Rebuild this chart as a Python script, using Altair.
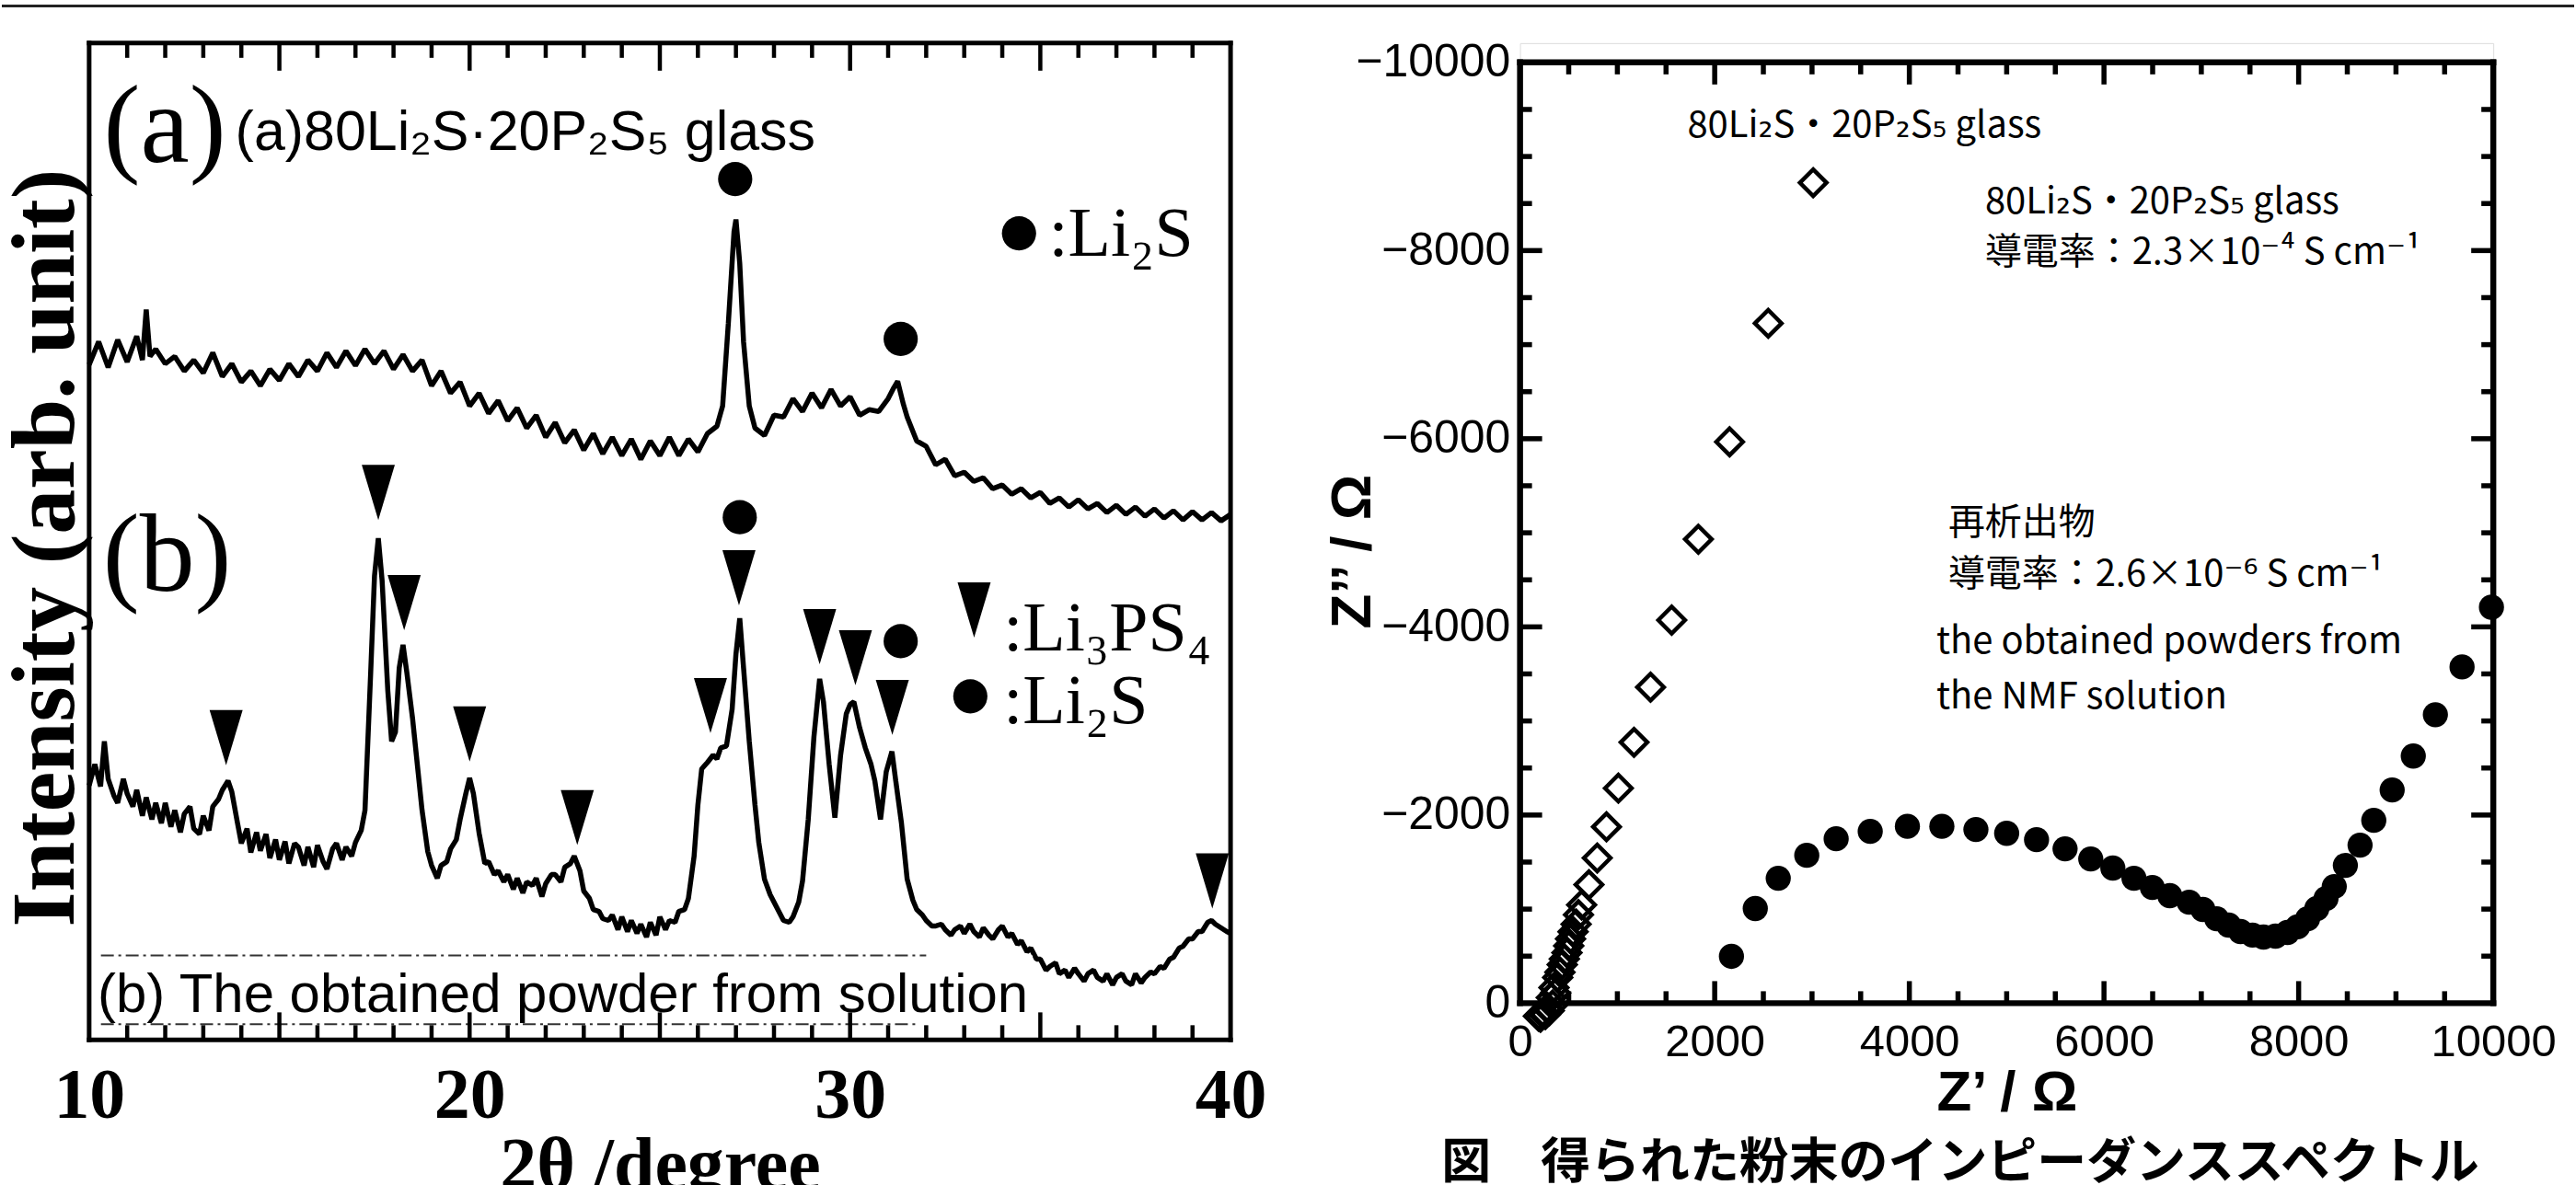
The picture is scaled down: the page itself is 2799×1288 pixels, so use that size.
import altair as alt
import pandas as pd

# ---------------- XRD patterns (left panel) ----------------
deg_a = [10.0, 10.25, 10.5, 10.75, 11.0, 11.25, 11.4, 11.5, 11.6, 11.75, 12.0, 12.25, 12.5, 12.75, 13.0,
         13.25, 13.5, 13.75, 14.0, 14.25, 14.5, 14.75, 15.0, 15.25, 15.5, 15.75, 16.0, 16.25, 16.5, 16.75,
         17.0, 17.25, 17.5, 17.75, 18.0, 18.25, 18.5, 18.75, 19.0, 19.25, 19.5, 19.75, 20.0, 20.25, 20.5,
         20.75, 21.0, 21.25, 21.5, 21.75, 22.0, 22.25, 22.5, 22.75, 23.0, 23.25, 23.5, 23.75, 24.0, 24.25,
         24.5, 24.75, 25.0, 25.25, 25.5, 25.75, 26.0, 26.25, 26.5, 26.65, 26.8, 26.95, 27.0, 27.1, 27.2,
         27.35, 27.5, 27.75, 28.0, 28.25, 28.5, 28.75, 29.0, 29.25, 29.5, 29.75, 30.0, 30.25, 30.5, 30.75,
         31.0, 31.15, 31.25, 31.4, 31.5, 31.75, 32.0, 32.25, 32.5, 32.75, 33.0, 33.25, 33.5, 33.75, 34.0,
         34.25, 34.5, 34.75, 35.0, 35.25, 35.5, 35.75, 36.0, 36.25, 36.5, 36.75, 37.0, 37.25, 37.5, 37.75,
         38.0, 38.25, 38.5, 38.75, 39.0, 39.25, 39.5, 39.75, 40.0]
int_a = [735, 760, 732, 762, 738, 766, 740, 795, 744, 752, 736, 744, 728, 740, 726,
         748, 722, 736, 716, 728, 712, 730, 718, 736, 722, 740, 728, 748, 732, 750,
         734, 752, 736, 750, 730, 746, 728, 740, 712, 728, 704, 716, 690, 704, 682,
         696, 674, 688, 666, 680, 656, 672, 650, 664, 642, 660, 638, 656, 636, 654,
         632, 652, 636, 656, 636, 654, 640, 660, 668, 690, 780, 880, 893, 845, 760,
         690, 666, 658, 680, 678, 698, 684, 704, 688, 708, 690, 700, 680, 686, 684,
         698, 710, 717, 692, 678, 652, 646, 626, 632, 614, 618, 608, 612, 600, 604,
         594, 600, 590, 596, 584, 590, 580, 588, 578, 584, 574, 582, 572, 580, 570,
         578, 568, 576, 566, 575, 566, 574, 565, 572]

deg_b = [10.0, 10.15, 10.3, 10.4, 10.5, 10.65, 10.75, 10.9, 11.0, 11.15, 11.25, 11.4, 11.5, 11.65, 11.75,
         11.9, 12.0, 12.15, 12.25, 12.4, 12.5, 12.65, 12.75, 12.9, 13.0, 13.15, 13.25, 13.4, 13.5, 13.65,
         13.75, 13.9, 14.0, 14.15, 14.25, 14.4, 14.5, 14.65, 14.75, 14.9, 15.0, 15.15, 15.25, 15.4, 15.5,
         15.65, 15.75, 15.9, 16.0, 16.15, 16.25, 16.4, 16.5, 16.65, 16.75, 16.9, 17.0, 17.15, 17.25, 17.4,
         17.5, 17.6, 17.7, 17.85, 17.95, 18.05, 18.15, 18.25, 18.35, 18.5, 18.65, 18.75, 18.9, 19.0, 19.15,
         19.25, 19.4, 19.5, 19.65, 19.75, 19.9, 20.0, 20.1, 20.25, 20.4, 20.5, 20.65, 20.75, 20.9, 21.0,
         21.15, 21.25, 21.4, 21.5, 21.65, 21.75, 21.9, 22.0, 22.15, 22.25, 22.4, 22.5, 22.65, 22.75, 22.9,
         23.0, 23.15, 23.25, 23.4, 23.5, 23.65, 23.75, 23.9, 24.0, 24.15, 24.25, 24.4, 24.5, 24.65, 24.75,
         24.9, 25.0, 25.15, 25.25, 25.4, 25.5, 25.65, 25.75, 25.9, 26.0, 26.1, 26.25, 26.4, 26.5, 26.6,
         26.75, 26.9, 27.0, 27.1, 27.2, 27.35, 27.5, 27.6, 27.75, 27.9, 28.0, 28.15, 28.25, 28.4, 28.5,
         28.65, 28.75, 28.9, 29.05, 29.2, 29.3, 29.45, 29.6, 29.75, 29.9, 30.0, 30.1, 30.25, 30.4, 30.55,
         30.65, 30.8, 30.95, 31.1, 31.2, 31.35, 31.5, 31.65, 31.75, 31.9, 32.0, 32.15, 32.25, 32.4, 32.5,
         32.65, 32.75, 32.9, 33.0, 33.15, 33.25, 33.4, 33.5, 33.65, 33.75, 33.9, 34.0, 34.15, 34.25, 34.4,
         34.5, 34.65, 34.75, 34.9, 35.0, 35.15, 35.25, 35.4, 35.5, 35.65, 35.75, 35.9, 36.0, 36.15, 36.25,
         36.4, 36.5, 36.65, 36.75, 36.9, 37.0, 37.15, 37.25, 37.4, 37.5, 37.65, 37.75, 37.9, 38.0, 38.15,
         38.25, 38.4, 38.5, 38.65, 38.75, 38.9, 39.0, 39.15, 39.25, 39.4, 39.5, 39.6, 39.75, 39.9, 40.0]
int_b = [277, 300, 276, 325, 284, 266, 258, 284, 268, 254, 272, 244, 264, 240, 258,
         236, 258, 232, 250, 226, 246, 254, 230, 224, 244, 228, 254, 262, 272, 282,
         270, 236, 214, 230, 204, 226, 206, 224, 198, 218, 196, 216, 192, 214, 210,
         190, 210, 188, 212, 194, 186, 208, 214, 196, 210, 200, 215, 228, 250, 400,
         505, 546, 500, 380, 325, 335, 405, 430, 400, 350, 290, 250, 205, 190, 176,
         190, 194, 208, 218, 240, 268, 285, 268, 225, 192, 194, 180, 184, 172, 180,
         164, 176, 160, 172, 168, 176, 156, 170, 180, 180, 172, 188, 192, 200, 184,
         162, 154, 142, 140, 132, 130, 136, 120, 134, 118, 130, 116, 126, 112, 128,
         114, 134, 120, 130, 128, 140, 142, 154, 200, 256, 295, 302, 310, 306, 318,
         320, 360, 420, 459, 405, 325, 256, 215, 175, 158, 150, 138, 130, 128, 134,
         150, 173, 240, 330, 393, 368, 300, 242, 310, 355, 365, 368, 340, 318, 300,
         282, 240, 292, 314, 282, 236, 175, 152, 142, 136, 130, 124, 124, 126, 120,
         114, 120, 124, 116, 126, 118, 112, 122, 114, 110, 120, 124, 112, 116, 104,
         108, 96, 100, 88, 88, 76, 80, 84, 72, 76, 68, 78, 72, 64, 72,
         76, 68, 64, 72, 60, 68, 72, 64, 60, 72, 62, 68, 74, 72, 80,
         78, 88, 90, 100, 102, 110, 110, 118, 118, 128, 130, 126, 122, 118, 116]

# peak markers
li3ps4_deg = [13.6, 17.6, 18.28, 20.0, 22.83, 26.33, 27.08, 29.2, 30.14, 31.11, 39.52]
li3ps4_int = [329, 596, 476, 333, 242, 364, 503, 439, 416, 362, 173]
li2s_deg = [26.98, 31.33, 27.1, 31.33]
li2s_int = [937, 763, 569, 434]

xrd_tick_labels = [10, 20, 30, 40]
xrd_major_ticks = [15, 20, 25, 30, 35]
xrd_minor_ticks = [11, 12, 13, 14, 16, 17, 18, 19, 21, 22, 23, 24, 26, 27, 28, 29, 31, 32, 33, 34, 36, 37, 38, 39]

# ---------------- Impedance (right panel) ----------------
glass_zre = [189, 210, 236, 260, 283, 300, 321, 335, 349, 365, 387, 410, 434, 455, 482, 500, 519, 545,
             576, 600, 633, 708, 793, 888, 1010, 1171, 1341, 1558, 1832, 2153, 2550, 3012]
glass_zim = [137, 150, 117, 120, 49, 80, -59, 20, -166, -110, -273, -330, -410, -470, -537, -610, -684, -760,
             -840, -940, -1045, -1260, -1543, -1875, -2285, -2773, -3359, -4072, -4932, -5967, -7227, -8721]

ppt_zre = [2172, 2417, 2653, 2946, 3248, 3598, 3980, 4334, 4684, 5000, 5307, 5600, 5864, 6091, 6308, 6497,
           6676, 6875, 7016, 7158, 7281, 7403, 7526, 7639, 7762, 7885, 7989, 8092, 8187, 8281, 8366, 8480,
           8631, 8772, 8961, 9178, 9405, 9679, 9981]
ppt_zim = [-498, -1006, -1328, -1572, -1748, -1826, -1880, -1880, -1846, -1806, -1738, -1641, -1533, -1436,
           -1328, -1230, -1143, -1074, -996, -898, -830, -762, -723, -703, -713, -752, -811, -898, -1006,
           -1113, -1240, -1465, -1680, -1943, -2266, -2627, -3066, -3574, -4209]

imp_x_labels = [0, 2000, 4000, 6000, 8000, 10000]
imp_y_labels = [-10000, -8000, -6000, -4000, -2000, 0]
imp_x_major = [2000, 4000, 6000, 8000]
imp_x_minor = [500, 1000, 1500, 2500, 3000, 3500, 4500, 5000, 5500, 6500, 7000, 7500, 8500, 9000, 9500]
imp_y_major = [-8000, -6000, -4000, -2000]
imp_y_minor = [-9500, -9000, -8500, -7500, -7000, -6500, -5500, -5000, -4500, -3500, -3000, -2500,
               -1500, -1000, -500]

# ---------------- layout constants ----------------
WL, HL = 1242, 1085
WR, HR = 1059, 1045
TOP_R = 21  # pixel row of Z'' = -10000 inside the right view
PX_Y_R = (HR - TOP_R) / 10000.0   # px per ohm, vertical (right)
PX_X_R = WR / 10000.0             # px per ohm, horizontal (right)

SERIF = "Liberation Serif, DejaVu Serif, serif"
SANS = "Liberation Sans, DejaVu Sans, sans-serif"
NARROW = "Liberation Sans Narrow, Noto Sans CJK JP, DejaVu Sans, sans-serif"
CJK = "Noto Sans CJK JP, sans-serif"

one = pd.DataFrame({"k": [0]})

# ---------------- left panel ----------------
xs_l = alt.Scale(domain=[10, 40], nice=False, zero=False)
ys_l = alt.Scale(domain=[0, HL], nice=False, zero=False)
ax_lx = alt.Axis(values=xrd_tick_labels, format="d", ticks=False, tickSize=0, domain=False, grid=False,
                 labelFont=SERIF, labelFontWeight="bold", labelFontSize=78, labelPadding=22,
                 labelColor="black", labelFlush=False, labelOverlap=False,
                 title="2θ /degree", titleFont=SERIF, titleFontWeight="bold", titleFontSize=80,
                 titleColor="black", titleBaseline="top", titleY=98)
ax_ly = alt.Axis(labels=False, ticks=False, tickSize=0, domain=False, grid=False,
                 title="Intensity (arb. unit)", titleFont=SERIF, titleFontWeight="bold", titleFontSize=98,
                 titleColor="black", titleAngle=270, titleBaseline="alphabetic", titleAlign="center",
                 titleX=-17, titleY=549)


def LX():
    return alt.X("deg:Q", scale=xs_l, axis=ax_lx)


def LY():
    return alt.Y("intensity:Q", scale=ys_l, axis=ax_ly)


xrd_df = pd.DataFrame({
    "deg": deg_a + deg_b,
    "intensity": int_a + int_b,
    "pattern": ["a"] * len(deg_a) + ["b"] * len(deg_b),
})
traces = alt.Chart(xrd_df).mark_line(color="black", strokeWidth=5.5, strokeJoin="bevel").encode(
    x=LX(), y=LY(), detail="pattern:N")

# inward ticks on top and bottom edges: one rule per tick, from the edge into the plot
lt_deg, lt_y0, lt_y1 = [], [], []
for ticks, length in ((xrd_major_ticks, 30), (xrd_minor_ticks, 16)):
    for v in ticks:
        lt_deg += [v, v]
        lt_y0 += [HL, 0]
        lt_y1 += [HL - length, length]
lticks = alt.Chart(pd.DataFrame({"deg": lt_deg, "intensity": lt_y0, "intensity2": lt_y1})).mark_rule(
    color="black", strokeWidth=4.5).encode(x=LX(), y=LY(), y2="intensity2:Q")

box = alt.Chart(pd.DataFrame({"deg": [10.2], "deg2": [34.8], "intensity": [16], "intensity2": [92]})).mark_rect(
    color="white").encode(x=LX(), x2="deg2:Q", y=LY(), y2="intensity2:Q")
dash = alt.Chart(pd.DataFrame({"deg": [10.31, 10.31], "deg2": [32.0, 31.8], "intensity": [92, 17]})).mark_rule(
    color="#333333", strokeWidth=2, strokeDash=[14, 5, 3, 5]).encode(x=LX(), x2="deg2:Q", y=LY())
box_text = alt.Chart(pd.DataFrame({"deg": [10.22], "intensity": [30],
                                   "label": ["(b) The obtained powder from solution"]})).mark_text(
    align="left", baseline="alphabetic", font=SANS, fontSize=60, color="black").encode(
    x=LX(), y=LY(), text="label:N")

big_labels = alt.Chart(pd.DataFrame({"deg": [10.38, 10.36], "intensity": [992, 525],
                                     "label": ["(a)", "(b)"]})).mark_text(
    align="left", baseline="middle", font=SERIF, fontSize=120, color="black").encode(
    x=LX(), y=LY(), text="label:N")
glass_label = alt.Chart(pd.DataFrame({"deg": [13.84], "intensity": [987],
                                      "label": ["(a)80Li₂S·20P₂S₅ glass"]})).mark_text(
    align="left", baseline="middle", font=SANS, fontSize=61, color="black").encode(
    x=LX(), y=LY(), text="label:N")
legend_text = alt.Chart(pd.DataFrame({"deg": [35.22, 34.03, 34.03], "intensity": [877, 447, 368],
                                      "label": [":Li₂S", ":Li₃PS₄", ":Li₂S"]})).mark_text(
    align="left", baseline="middle", font=SERIF, fontSize=76, color="black").encode(
    x=LX(), y=LY(), text="label:N")

tri_df = pd.DataFrame({"deg": li3ps4_deg + [33.26], "intensity": li3ps4_int + [468]})
triangles = alt.Chart(tri_df).mark_point(shape="M -0.6 -1 L 0.6 -1 L 0 1 Z", filled=True, size=3600,
                                         color="black", opacity=1, strokeWidth=0).encode(x=LX(), y=LY())
dot_df = pd.DataFrame({"deg": li2s_deg + [34.44, 33.16], "intensity": li2s_int + [878, 374]})
dots = alt.Chart(dot_df).mark_circle(size=1385, color="black", opacity=1).encode(x=LX(), y=LY())

# frame drawn as four rules at the domain edges
frame_l = alt.Chart(pd.DataFrame({
    "deg": [10, 40, 10, 10], "deg2": [10, 40, 40, 40],
    "intensity": [0, 0, 0, HL], "intensity2": [HL, HL, 0, HL],
})).mark_rule(color="black", strokeWidth=5, strokeCap="square").encode(
    x=LX(), x2="deg2:Q", y=LY(), y2="intensity2:Q")
top_line = alt.Chart(one).mark_rule(color="#222222", strokeWidth=3).encode(
    x=alt.value(-95), x2=alt.value(2799 - 95), y=alt.value(-40.5))

left = alt.layer(traces, box, dash, box_text, big_labels, glass_label, legend_text, triangles, dots,
                 frame_l, lticks, top_line).properties(width=WL, height=HL)

# ---------------- right panel ----------------
xs_r = alt.Scale(domain=[0, 10000], nice=False, zero=False)
ys_r = alt.Scale(domain=[-10000 - TOP_R / PX_Y_R, 0], nice=False, zero=False, reverse=True)
ax_rx = alt.Axis(values=imp_x_labels, format="d", ticks=False, tickSize=0, domain=False, grid=False,
                 labelFont=SANS, labelFontSize=49, labelPadding=18, labelColor="black",
                 labelFlush=False, labelOverlap=False,
                 title="Z’ / Ω", titleFont=SANS, titleFontWeight="bold", titleFontSize=62,
                 titleColor="black", titleBaseline="alphabetic", titleY=116)
ax_ry = alt.Axis(values=imp_y_labels, format="d", ticks=False, tickSize=0, domain=False, grid=False,
                 labelFont=SANS, labelFontSize=50, labelPadding=11, labelColor="black",
                 labelFlush=False, labelOverlap=False,
                 title="Z’’ / Ω", titleFont=SANS, titleFontWeight="bold", titleFontSize=62,
                 titleColor="black", titleAngle=270, titleBaseline="alphabetic", titleAlign="center",
                 titleX=-163, titleY=553)


def RX():
    return alt.X("zre:Q", scale=xs_r, axis=ax_rx)


def RY():
    return alt.Y("zim:Q", scale=ys_r, axis=ax_ry)


glass_df = pd.DataFrame({"zre": glass_zre, "zim": glass_zim})
ppt_df = pd.DataFrame({"zre": ppt_zre, "zim": ppt_zim})
diamonds = alt.Chart(glass_df).mark_point(shape="diamond", filled=False, size=840, strokeWidth=4.5,
                                          color="black", opacity=1).encode(x=RX(), y=RY())
circles = alt.Chart(ppt_df).mark_circle(size=750, color="black", opacity=1).encode(x=RX(), y=RY())

# inward ticks of the impedance frame, as rules with both ends in data units
r_x, r_x2, r_y, r_y2 = [], [], [], []
for ticks, length in ((imp_x_major, 24), (imp_x_minor, 13)):
    d = length / PX_Y_R
    for v in ticks:
        r_x += [v, v]
        r_x2 += [v, v]
        r_y += [0, -10000]
        r_y2 += [-d, -10000 + d]
for ticks, length in ((imp_y_major, 24), (imp_y_minor, 13)):
    d = length / PX_X_R
    for v in ticks:
        r_x += [0, 10000]
        r_x2 += [d, 10000 - d]
        r_y += [v, v]
        r_y2 += [v, v]
rticks = alt.Chart(pd.DataFrame({"zre": r_x, "zre2": r_x2, "zim": r_y, "zim2": r_y2})).mark_rule(
    color="black", strokeWidth=5.5).encode(x=RX(), x2="zre2:Q", y=RY(), y2="zim2:Q")

frame_r = alt.Chart(pd.DataFrame({
    "zre": [0, 10000, 0, 0], "zre2": [0, 10000, 10000, 10000],
    "zim": [-10000, -10000, -10000, 0], "zim2": [0, 0, -10000, 0],
})).mark_rule(color="black", strokeWidth=6.5, strokeCap="square").encode(
    x=RX(), x2="zre2:Q", y=RY(), y2="zim2:Q")

notes_df = pd.DataFrame({
    "zre": [1719, 4778, 4778, 4400, 4400, 4278, 4278],
    "zim": [-9326, -8516, -7969, -5098, -4551, -3838, -3252],
    "label": ["80Li₂S・20P₂S₅ glass", "80Li₂S・20P₂S₅ glass", "導電率：2.3×10⁻⁴ S cm⁻¹",
              "再析出物", "導電率：2.6×10⁻⁶ S cm⁻¹", "the obtained powders from", "the NMF solution"],
})
notes = alt.Chart(notes_df).mark_text(align="left", baseline="middle", font=NARROW, fontSize=40,
                                      color="black").encode(x=RX(), y=RY(), text="label:N")

caption = alt.Chart(pd.DataFrame({"label": ["図　得られた粉末のインピーダンススペクトル"]})).mark_text(
    align="center", baseline="middle", font=CJK, fontSize=54, fontWeight="bold", color="black").encode(
    x=alt.value(479), y=alt.value(1220), text="label:N")

right = alt.layer(diamonds, circles, frame_r, rticks, notes, caption).properties(width=WR, height=HR)

chart = alt.hconcat(left, right, spacing=315, bounds="flush").properties(
    padding={"left": 0, "top": 3, "right": 0, "bottom": 0}
).configure_view(strokeWidth=0).configure(background="white")

chart.save("out.html", embed_options={"renderer": "svg", "actions": False})
